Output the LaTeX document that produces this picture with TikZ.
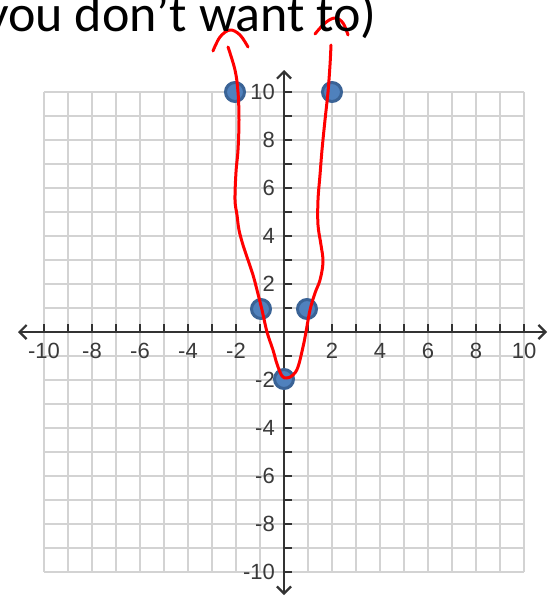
\documentclass[tikz,border=0pt]{standalone}
\usepackage{fontspec}
\newfontfamily\calib{Carlito}
\newfontfamily\arialf{Liberation Sans}
\usetikzlibrary{arrows.meta}
\definecolor{gridc}{HTML}{D3D3D3}
\definecolor{axisc}{HTML}{333333}
\definecolor{labc}{HTML}{3A3A3A}
\definecolor{ptfill}{HTML}{4F81BD}
\definecolor{ptdraw}{HTML}{3A6396}
\begin{document}
\begin{tikzpicture}[x=1pt,y=-1pt,
  gridline/.style={gridc, line width=2pt},
  axisline/.style={axisc, line width=2.2pt},
  tickline/.style={axisc, line width=2pt},
  barb/.style={{Straight Barb[length=7pt,width=14pt]}-{Straight Barb[length=7pt,width=14pt]}},
  labfont/.style={inner sep=0pt, font=\arialf\fontsize{22}{24}\selectfont, text=labc},
  xlab/.style={labfont, anchor=north},
  ylab/.style={labfont, anchor=east},
  datapt/.style={circle, fill=ptfill, draw=ptdraw, line width=3pt, minimum size=19pt, inner sep=0pt},
  redink/.style={red, line width=3pt, line cap=round, line join=round}]
\useasboundingbox (0,0) rectangle (559,597);
\fill[white] (0,0) rectangle (559,597);
% grid
\foreach \i in {-10,...,10} {
  \draw[gridline] ({284+24*\i},92) -- ({284+24*\i},572);
  \draw[gridline] (44,{332+24*\i}) -- (524,{332+24*\i});
}
% axes
\coordinate (xleft) at (18,332);
\coordinate (xright) at (547,332);
\coordinate (ytop) at (284,70);
\coordinate (ybot) at (284,595);
\draw[axisline, barb] (xleft) -- (xright);
\draw[axisline, barb] (ybot) -- (ytop);
% ticks
\foreach \i in {-10,...,-1,1,2,...,10} {
  \draw[tickline] ({284+24*\i},332) -- ({284+24*\i},324);
  \draw[tickline] (284,{332-24*\i}) -- (292,{332-24*\i});
}
% labels
\foreach \i [count=\k] in {-10,-8,-6,-4,-2,2,4,6,8,10} {
  \node[xlab] (xlab\k) at ({284+24*\i},343) {\i};
  \node[ylab] (ylab\k) at (275,{332-24*\i}) {\i};
}
% points
\node[datapt] (pA) at (235,92) {};
\node[datapt] (pB) at (332,92) {};
\node[datapt] (pC) at (261,309) {};
\node[datapt] (pD) at (307,309) {};
\node[datapt] (pE) at (284,379) {};
% red ink
\draw[redink] plot[smooth, tension=0.6] coordinates {
  (228,47) (235,70) (238,92) (239,120) (238,150) (236,172) (235,200) (237,215) (239,230) (243,245)
  (248,260) (253,275) (257,290) (262,310) (267,332) (273,350) (277,364) (282,376) (287,378)
  (293,375) (298,367) (303,347) (306,332) (310,310) (315,293) (320,280) (323,262) (321,245)
  (318,225) (318,200) (320,175) (322,150) (325,120) (328,92) (330,65) (331,45)};
\draw[redink] plot[smooth, tension=0.6] coordinates {(213,51) (220,37) (230,30) (240,35) (248,47)};
\draw[redink] plot[smooth, tension=0.6] coordinates {(315,34) (325,23) (335,18) (343,23) (348,35)};
% title
\node[anchor=base east, inner sep=0pt, font=\calib\fontsize{52}{56}\selectfont] (title) at (377,31) {you don’t want to)};
\end{tikzpicture}
\end{document}
